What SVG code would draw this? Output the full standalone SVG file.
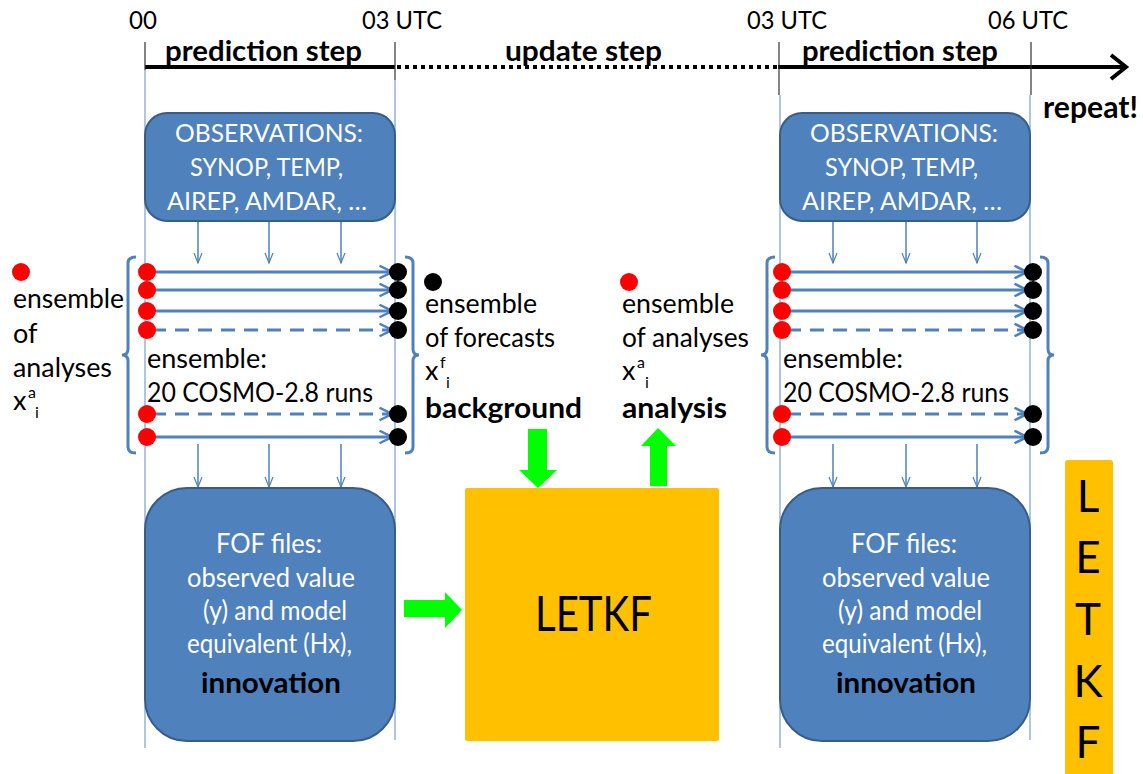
<svg xmlns="http://www.w3.org/2000/svg" width="1143" height="774" viewBox="0 0 1143 774">
<defs>
<style>
text{font-family:Lato,"Open Sans","Liberation Sans",sans-serif;fill:#000}
.t{font-size:26px}
.tl{font-size:25px}
.ob{font-size:25px}
.ff{font-size:27px}
.lg{font-size:27px}
.bb{font-size:29px;font-weight:bold}
.b{font-weight:bold}
.w{fill:#fff}
.box{fill:#4F81BD;stroke:#385D8A;stroke-width:2}
.vl{stroke:#95B3D7;stroke-width:1.5;fill:none}
.sm{stroke:#4F81BD;stroke-width:1.5;fill:none}
.run{stroke:#4F81BD;stroke-width:3;fill:none;marker-end:url(#ah)}
.dash{stroke-dasharray:14 9}
.br{stroke:#4F81BD;stroke-width:3;fill:none}
.red{fill:#FF0000}
.blk{fill:#000}
.org{fill:#FFC000}
.grn{fill:#00FF00}
</style>
<marker id="ah" viewBox="0 0 12 12" refX="11" refY="6" markerWidth="5" markerHeight="5" orient="auto" markerUnits="strokeWidth">
<path d="M1,1 L11,6 L1,11" fill="none" stroke="#4F81BD" stroke-width="2"/>
</marker>
<marker id="sh" viewBox="0 0 12 12" refX="11" refY="6" markerWidth="8" markerHeight="8" orient="auto" markerUnits="strokeWidth">
<path d="M1,2 L11,6 L1,10" fill="none" stroke="#4F81BD" stroke-width="1.2"/>
</marker>
</defs>
<rect width="1143" height="774" fill="#fff"/>

<g id="timeline">
<line x1="145" y1="67" x2="395" y2="67" stroke="#000" stroke-width="4"/>
<line x1="397" y1="67" x2="778" y2="67" stroke="#000" stroke-width="4" stroke-dasharray="4 4"/>
<line x1="778" y1="67" x2="1124" y2="67" stroke="#000" stroke-width="4"/>
<path d="M1111,55 L1126,67 L1111,79" fill="none" stroke="#000" stroke-width="4"/>
<g stroke="#333" stroke-width="1.2">
<line x1="145" y1="42" x2="145" y2="70"/>
<line x1="395" y1="42" x2="395" y2="80"/>
<line x1="779" y1="42" x2="779" y2="95"/>
<line x1="1031" y1="42" x2="1031" y2="95"/>
</g>
<text class="tl" x="129" y="29" textLength="28" lengthAdjust="spacingAndGlyphs">00</text>
<text class="tl" x="362" y="29" textLength="80" lengthAdjust="spacingAndGlyphs">03 UTC</text>
<text class="tl" x="747" y="29" textLength="80" lengthAdjust="spacingAndGlyphs">03 UTC</text>
<text class="tl" x="988" y="29" textLength="80" lengthAdjust="spacingAndGlyphs">06 UTC</text>
<text class="b" x="165" y="61" font-size="29" textLength="197" lengthAdjust="spacingAndGlyphs">prediction step</text>
<text class="b" x="505" y="61" font-size="29" textLength="157" lengthAdjust="spacingAndGlyphs">update step</text>
<text class="b" x="802" y="61" font-size="29" textLength="196" lengthAdjust="spacingAndGlyphs">prediction step</text>
<text class="b" x="1043" y="118" font-size="30" textLength="95" lengthAdjust="spacingAndGlyphs">repeat!</text>
</g>

<g id="connectors">
<line class="vl" x1="145" y1="70" x2="145" y2="748"/>
<line class="vl" x1="395" y1="80" x2="395" y2="740"/>
<line class="vl" x1="780" y1="95" x2="780" y2="748"/>
<line class="vl" x1="1030" y1="95" x2="1030" y2="740"/>
<g class="sm" marker-end="url(#sh)">
<line x1="198" y1="221" x2="198" y2="263"/>
<line x1="269" y1="221" x2="269" y2="263"/>
<line x1="341" y1="221" x2="341" y2="263"/>
<line x1="198" y1="444" x2="198" y2="487"/>
<line x1="269" y1="444" x2="269" y2="487"/>
<line x1="341" y1="444" x2="341" y2="487"/>
<line x1="833" y1="221" x2="833" y2="263"/>
<line x1="906" y1="221" x2="906" y2="263"/>
<line x1="977" y1="221" x2="977" y2="263"/>
<line x1="833" y1="444" x2="833" y2="487"/>
<line x1="906" y1="444" x2="906" y2="487"/>
<line x1="977" y1="444" x2="977" y2="487"/>
</g>
<polygon class="grn" points="528,429 547,429 547,470 557,470 538,488 519,470 528,470"/>
<polygon class="grn" points="650,486 667,486 667,446 676,446 658,428 641,446 650,446"/>
<polygon class="grn" points="404,600 445,600 445,592 462,610 445,628 445,617 404,617"/>
</g>

<g id="obs-left">
<rect class="box" x="145" y="113" width="250" height="108" rx="22"/>
<text class="ob w" x="175" y="142" textLength="188" lengthAdjust="spacingAndGlyphs">OBSERVATIONS:</text>
<text class="ob w" x="190" y="176" textLength="153" lengthAdjust="spacingAndGlyphs">SYNOP, TEMP,</text>
<text class="ob w" x="167" y="210" textLength="200" lengthAdjust="spacingAndGlyphs">AIREP, AMDAR, …</text>
</g>
<g id="obs-right">
<rect class="box" x="780" y="113" width="250" height="108" rx="22"/>
<text class="ob w" x="810" y="142" textLength="188" lengthAdjust="spacingAndGlyphs">OBSERVATIONS:</text>
<text class="ob w" x="825" y="176" textLength="153" lengthAdjust="spacingAndGlyphs">SYNOP, TEMP,</text>
<text class="ob w" x="802" y="210" textLength="200" lengthAdjust="spacingAndGlyphs">AIREP, AMDAR, …</text>
</g>

<g id="ensemble-left">
<path class="br" d="M136,257 Q128,257 128,263 L128,349 Q128,355 122,355 Q128,355 128,361 L128,447 Q128,453 136,453"/>
<path class="br" d="M405,257 Q413,257 413,263 L413,349 Q413,355 419,355 Q413,355 413,361 L413,447 Q413,453 405,453"/>
<line class="run" x1="152" y1="272" x2="392" y2="272"/>
<line class="run" x1="152" y1="290" x2="392" y2="290"/>
<line class="run" x1="152" y1="311" x2="392" y2="311"/>
<line class="run dash" x1="152" y1="330" x2="392" y2="330"/>
<line class="run dash" x1="152" y1="414" x2="392" y2="414"/>
<line class="run" x1="152" y1="437" x2="392" y2="437"/>
<g class="red">
<circle cx="147" cy="272" r="9"/><circle cx="147" cy="290" r="9"/><circle cx="147" cy="311" r="9"/><circle cx="147" cy="330" r="9"/><circle cx="147" cy="414" r="9"/><circle cx="147" cy="437" r="9"/>
</g>
<g class="blk">
<circle cx="398" cy="272" r="9"/><circle cx="398" cy="290" r="9"/><circle cx="398" cy="311" r="9"/><circle cx="398" cy="330" r="9"/><circle cx="398" cy="414" r="9"/><circle cx="398" cy="437" r="9"/>
</g>
<text class="t" x="147" y="368" textLength="120" lengthAdjust="spacingAndGlyphs">ensemble:</text>
<text class="t" x="147" y="402" textLength="226" lengthAdjust="spacingAndGlyphs">20 COSMO-2.8 runs</text>
</g>

<g id="ensemble-right">
<path class="br" d="M775,257 Q767,257 767,263 L767,349 Q767,355 761,355 Q767,355 767,361 L767,447 Q767,453 775,453"/>
<path class="br" d="M1040,257 Q1048,257 1048,263 L1048,349 Q1048,355 1054,355 Q1048,355 1048,361 L1048,447 Q1048,453 1040,453"/>
<line class="run" x1="787" y1="272" x2="1027" y2="272"/>
<line class="run" x1="787" y1="290" x2="1027" y2="290"/>
<line class="run" x1="787" y1="311" x2="1027" y2="311"/>
<line class="run dash" x1="787" y1="330" x2="1027" y2="330"/>
<line class="run dash" x1="787" y1="414" x2="1027" y2="414"/>
<line class="run" x1="787" y1="437" x2="1027" y2="437"/>
<g class="red">
<circle cx="782" cy="272" r="9"/><circle cx="782" cy="290" r="9"/><circle cx="782" cy="311" r="9"/><circle cx="782" cy="330" r="9"/><circle cx="782" cy="414" r="9"/><circle cx="782" cy="437" r="9"/>
</g>
<g class="blk">
<circle cx="1033" cy="272" r="9"/><circle cx="1033" cy="290" r="9"/><circle cx="1033" cy="311" r="9"/><circle cx="1033" cy="330" r="9"/><circle cx="1033" cy="414" r="9"/><circle cx="1033" cy="437" r="9"/>
</g>
<text class="t" x="783" y="368" textLength="120" lengthAdjust="spacingAndGlyphs">ensemble:</text>
<text class="t" x="783" y="402" textLength="226" lengthAdjust="spacingAndGlyphs">20 COSMO-2.8 runs</text>
</g>

<g id="legend-analyses-left">
<circle class="red" cx="21" cy="272" r="9"/>
<text class="lg" x="13" y="308" textLength="111" lengthAdjust="spacingAndGlyphs">ensemble</text>
<text class="lg" x="13" y="343">of</text>
<text class="lg" x="13" y="377" textLength="99" lengthAdjust="spacingAndGlyphs">analyses</text>
<text class="lg" x="13" y="410">x</text>
<text x="28" y="398" font-size="16">a</text>
<text x="35" y="418" font-size="16">i</text>
</g>

<g id="legend-forecasts">
<circle class="blk" cx="433" cy="282" r="9"/>
<text class="lg" x="425" y="313" textLength="112" lengthAdjust="spacingAndGlyphs">ensemble</text>
<text class="lg" x="425" y="347" textLength="130" lengthAdjust="spacingAndGlyphs">of forecasts</text>
<text class="lg" x="425" y="380">x</text>
<text x="440" y="368" font-size="16">f</text>
<text x="446" y="388" font-size="16">i</text>
<text class="bb" x="425" y="418" textLength="157" lengthAdjust="spacingAndGlyphs">background</text>
</g>

<g id="legend-analyses-mid">
<circle class="red" cx="629" cy="282" r="9"/>
<text class="lg" x="622" y="313" textLength="112" lengthAdjust="spacingAndGlyphs">ensemble</text>
<text class="lg" x="622" y="347" textLength="127" lengthAdjust="spacingAndGlyphs">of analyses</text>
<text class="lg" x="622" y="380">x</text>
<text x="637" y="368" font-size="16">a</text>
<text x="645" y="388" font-size="16">i</text>
<text class="bb" x="622" y="418" textLength="105" lengthAdjust="spacingAndGlyphs">analysis</text>
</g>

<g id="fof-left">
<rect class="box" x="145" y="488" width="250" height="253" rx="42"/>
<text class="ff w" x="216" y="553" textLength="106" lengthAdjust="spacingAndGlyphs">FOF files:</text>
<text class="ff w" x="187" y="587" textLength="168" lengthAdjust="spacingAndGlyphs">observed value</text>
<text class="ff w" x="203" y="620" textLength="144" lengthAdjust="spacingAndGlyphs">(y) and model</text>
<text class="ff w" x="187" y="653" textLength="165" lengthAdjust="spacingAndGlyphs">equivalent (Hx),</text>
<text class="bb" x="201" y="693" textLength="140" lengthAdjust="spacingAndGlyphs">innovation</text>
</g>
<g id="fof-right">
<rect class="box" x="780" y="488" width="250" height="253" rx="42"/>
<text class="ff w" x="851" y="553" textLength="106" lengthAdjust="spacingAndGlyphs">FOF files:</text>
<text class="ff w" x="822" y="587" textLength="168" lengthAdjust="spacingAndGlyphs">observed value</text>
<text class="ff w" x="838" y="620" textLength="144" lengthAdjust="spacingAndGlyphs">(y) and model</text>
<text class="ff w" x="822" y="653" textLength="165" lengthAdjust="spacingAndGlyphs">equivalent (Hx),</text>
<text class="bb" x="836" y="693" textLength="140" lengthAdjust="spacingAndGlyphs">innovation</text>
</g>

<g id="letkf-main">
<rect class="org" x="465" y="488" width="254" height="253" rx="2"/>
<text x="535" y="631" font-size="48" textLength="117" lengthAdjust="spacingAndGlyphs">LETKF</text>
</g>

<g id="letkf-side">
<rect class="org" x="1065" y="460" width="48" height="320" rx="3"/>
<g font-size="44" text-anchor="middle">
<text x="1088" y="512">L</text>
<text x="1088" y="573">E</text>
<text x="1088" y="635">T</text>
<text x="1088" y="697">K</text>
<text x="1088" y="758">F</text>
</g>
</g>
</svg>
